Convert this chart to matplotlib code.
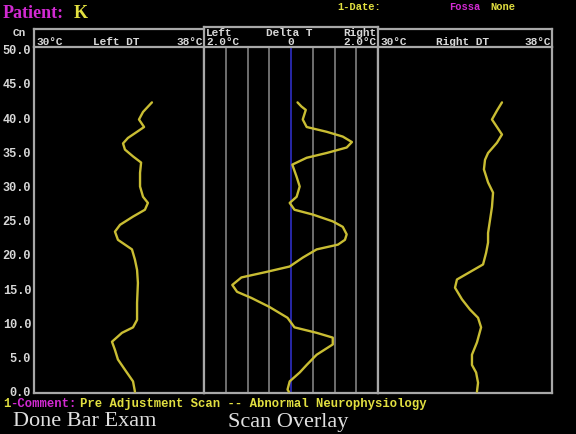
import matplotlib.pyplot as plt
from matplotlib.lines import Line2D

# depth (cm) / temperature readings for the three traces
left_depth = [42.3, 40.9, 39.8, 38.7, 38.0, 37.1, 36.3, 35.4, 34.4, 33.5,
              32.0, 30.0, 28.5, 27.6, 26.6, 25.6, 24.4, 23.4, 22.2, 21.5,
              20.8, 19.3, 17.8, 15.9, 13.0, 10.5, 9.4, 8.6, 7.3, 6.1,
              4.7, 3.2, 1.5, 0.0]
left_temp = [35.55, 35.13, 34.94, 35.18, 34.85, 34.42, 34.19, 34.28, 34.66, 35.04,
             34.99, 34.99, 35.13, 35.36, 35.22, 34.66, 34.05, 33.81, 33.95, 34.28,
             34.61, 34.75, 34.85, 34.89, 34.85, 34.85, 34.66, 34.14, 33.67, 33.81,
             33.95, 34.28, 34.66, 34.75]

right_depth = [42.3, 41.1, 39.8, 38.7, 37.6, 36.4, 34.9, 33.9, 32.5, 30.6,
               29.1, 27.0, 25.1, 23.2, 21.8, 20.3, 18.6, 17.5, 16.4, 15.2,
               13.5, 12.0, 10.8, 9.4, 7.2, 5.4, 3.9, 2.8, 1.3, 0.0]
right_temp = [35.70, 35.47, 35.24, 35.47, 35.70, 35.47, 35.06, 34.92, 34.87, 35.06,
              35.29, 35.24, 35.15, 35.06, 35.06, 34.97, 34.83, 34.23, 33.63, 33.54,
              33.86, 34.23, 34.60, 34.74, 34.55, 34.32, 34.32, 34.51, 34.60, 34.55]

delta_depth = [42.3, 41.7, 41.2, 39.8, 38.7, 38.0, 37.3, 36.5, 35.7, 34.9,
               34.2, 33.2, 31.4, 30.0, 28.5, 27.6, 26.6, 25.9, 24.9, 24.1,
               23.0, 22.2, 21.5, 20.8, 19.6, 18.3, 17.5, 16.7, 15.6, 14.6,
               13.7, 12.4, 10.8, 9.4, 8.6, 7.9, 6.9, 5.4, 3.9, 2.8,
               1.5, 0.3, 0.0]
delta_t = [0.15, 0.24, 0.34, 0.27, 0.36, 0.82, 1.19, 1.40, 1.28, 0.82,
           0.36, 0.03, 0.13, 0.20, 0.13, -0.03, 0.08, 0.50, 0.96, 1.19,
           1.28, 1.24, 1.08, 0.59, 0.27, -0.03, -0.57, -1.14, -1.35, -1.24,
           -0.91, -0.50, -0.08, 0.08, 0.59, 0.96, 0.96, 0.59, 0.36, 0.20,
           -0.03, -0.08, -0.05]

depth_ticks = [0, 5, 10, 15, 20, 25, 30, 35, 40, 45, 50]
delta_grid = [-1.5, -1.0, -0.5, 0.5, 1.0, 1.5]
temp_range = (30, 38)
delta_range = (-2.0, 2.0)

BLACK = 'black'
FRAME = '#a8a8a8'
GRID = '#8c8c8c'
TXT = '#d8d8d8'
TRACE = '#c9bd33'
YEL = '#e2e040'
MAG = '#d22ad2'
MONO = 'Liberation Mono'
SERIF = 'Liberation Serif'

W, H = 576, 434


def box(x0, y0, x1, y1):
    return [x0 / W, 1 - y1 / H, (x1 - x0) / W, (y1 - y0) / H]


fig = plt.figure(figsize=(5.76, 4.34), dpi=100, facecolor=BLACK)

# full-figure overlay in pixel units for header / footer text
bg = fig.add_axes([0, 0, 1, 1])
bg.set_xlim(0, W)
bg.set_ylim(H, 0)
bg.axis('off')
bg.patch.set_alpha(0)

top, bottom = 47, 393
ax_l = fig.add_axes(box(34, top, 204, bottom))
ax_c = fig.add_axes(box(204, top, 378, bottom))
ax_r = fig.add_axes(box(378, top, 552, bottom))

for ax in (ax_l, ax_c, ax_r):
    ax.set_facecolor(BLACK)
    ax.set_ylim(-0.2, 50.4)
    ax.set_xticks([])
    for s in ax.spines.values():
        s.set_color(FRAME)
        s.set_linewidth(1.6)

ax_l.set_xlim(*temp_range)
ax_r.set_xlim(*temp_range)
ax_c.set_xlim(*delta_range)

ax_l.set_yticks(depth_ticks)
ax_l.set_yticklabels([f'{d:.1f}' for d in depth_ticks],
                     fontfamily=MONO, fontweight='bold', fontsize=8.6, color=TXT)
ax_l.tick_params(axis='y', length=0, pad=2)
for ax in (ax_c, ax_r):
    ax.set_yticks([])

# delta T grid and zero line
for g in delta_grid:
    ax_c.axvline(g, color=GRID, lw=1.1, zorder=1)
ax_c.axvline(0, color='#2828a8', lw=1.4, zorder=1)

trace = dict(color=TRACE, lw=1.7, solid_joinstyle='round', solid_capstyle='round', zorder=3)
ax_l.plot(left_temp, left_depth, **trace)
ax_c.plot(delta_t, delta_depth, **trace)
ax_r.plot(right_temp, right_depth, **trace)

# header boxes
hdr = dict(color=FRAME, lw=1.6)
bg.add_line(Line2D([34, 204], [29, 29], **hdr))
bg.add_line(Line2D([204, 378], [27, 27], **hdr))
bg.add_line(Line2D([378, 552], [29, 29], **hdr))
for x, y0 in [(34, 29), (204, 27), (378, 27), (552, 29)]:
    bg.add_line(Line2D([x, x], [y0, top], **hdr))

mono = dict(fontfamily=MONO, fontweight='bold', fontsize=8, color=TXT, va='center')
bg.text(19, 33, 'Cn', ha='center', **mono)
bg.text(36, 42, '30°C', ha='left', **mono)
bg.text(116, 42, 'Left DT', ha='center', **mono)
bg.text(203, 42, '38°C', ha='right', **mono)
bg.text(206, 33, 'Left', ha='left', **mono)
bg.text(206, 42, '2.0°C', ha='left', **mono)
bg.text(289, 33, 'Delta T', ha='center', **mono)
bg.text(291, 42, '0', ha='center', **mono)
bg.text(376, 33, 'Right', ha='right', **mono)
bg.text(376, 42, '2.0°C', ha='right', **mono)
bg.text(380, 42, '30°C', ha='left', **mono)
bg.text(462, 42, 'Right DT', ha='center', **mono)
bg.text(551, 42, '38°C', ha='right', **mono)

# title line
bg.text(3, 14, 'Patient:', fontfamily=SERIF, fontweight='bold', fontsize=13,
        color=MAG, ha='left', va='center')
bg.text(74, 14, 'K', fontfamily=SERIF, fontweight='bold', fontsize=13,
        color=YEL, ha='left', va='center')
small = dict(fontfamily=MONO, fontweight='bold', fontsize=7.5, va='center', ha='left')
bg.text(337, 7, '1-Date:', color=YEL, **small)
bg.text(449, 7, 'Fossa', color=MAG, **small)
bg.text(490, 7, 'None', color=YEL, **small)

# comment line
cm = dict(fontfamily=MONO, fontweight='bold', fontsize=8.8, va='center', ha='left')
bg.text(3, 404, '1', color=YEL, **cm)
bg.text(10, 404, '-Comment:', color=MAG, **cm)
bg.text(80, 404, 'Pre Adjustment Scan -- Abnormal Neurophysiology', color=YEL, **cm)

# menu line
menu = dict(fontfamily=SERIF, fontsize=16, color='#e0e0e0', va='center', ha='left')
bg.text(13, 422, 'Done Bar Exam', **menu)
bg.text(228, 422, 'Scan Overlay', **menu)

fig.savefig('out.png', dpi=100, facecolor=BLACK)
plt.close(fig)
